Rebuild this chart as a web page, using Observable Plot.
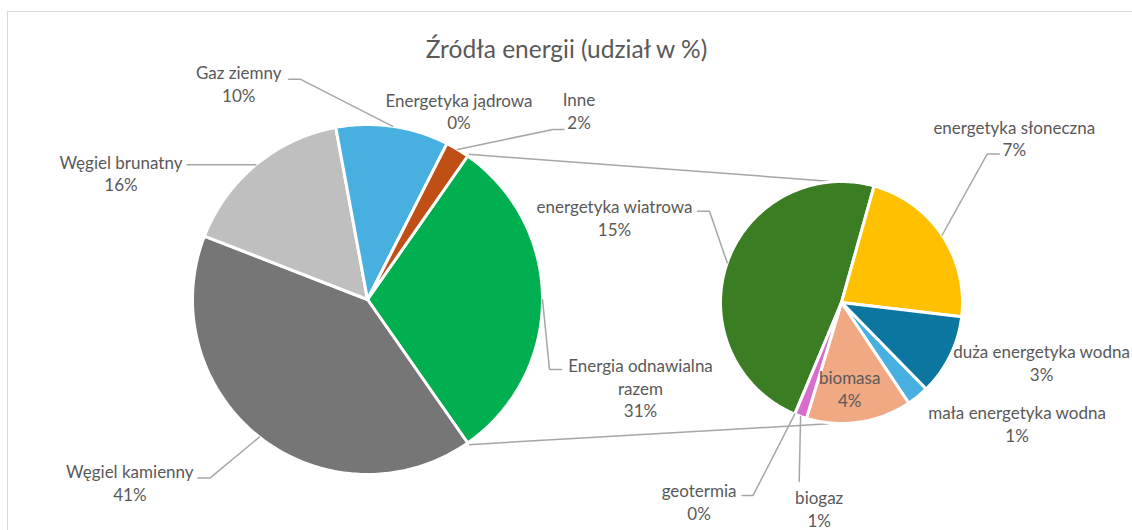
<!DOCTYPE html>
<html><head><meta charset="utf-8">
<script src="https://cdn.jsdelivr.net/npm/d3@7"></script>
<script src="https://cdn.jsdelivr.net/npm/@observablehq/plot@0.6"></script>
<style>
body{margin:0;background:#fff;overflow:hidden;}
#wrap{position:relative;width:1132px;height:530px;overflow:hidden;background:#fff;}
#border{position:absolute;left:7px;top:11px;width:1200px;height:600px;border:1.5px solid #d9d9d9;}
#chart{position:absolute;left:0;top:0;}
</style></head><body>
<div id="wrap"><div id="border"></div><div id="chart"></div></div>
<script>
// ---------- data ----------
const chartTitle = "Źródła energii (udział w %)";
const mainNames = ["Węgiel kamienny", "Węgiel brunatny", "Gaz ziemny", "Energetyka jądrowa", "Inne"];
const mainValues = [40.6, 16.2, 10.4, 0, 2.2];
const otherName = "Energia odnawialna razem";
const subNames = ["energetyka wiatrowa", "energetyka słoneczna", "duża energetyka wodna", "mała energetyka wodna", "biomasa", "biogaz", "geotermia"];
const subValues = [14.7, 6.9, 3.3, 0.9, 4.3, 0.5, 0];

// ---------- styles ----------
const mainColors = ["#767676", "#bfbfbf", "#47b0e1", "#4472c4", "#c04f15"];
const otherColor = "#00b050";
const subColors = ["#3b7d23", "#ffc000", "#0b76a0", "#47b0e1", "#f1a983", "#d86dcd", "#a02b93"];
const textColor = "#595959";
const lineColor = "#a6a6a6";
const FONT = "Lato, 'Open Sans', sans-serif";

// ---------- layout ----------
const leftPie = {cx: 367, cy: 299, r: 175};
const rightPie = {cx: 841, cy: 302, r: 121};
const rightStart = 202.7; // degrees clockwise from 12 o'clock
// label placement: offset of label centre from slice mid-arc point; leader end offset from label centre
const labelLayout = {
  "Węgiel kamienny": {dx: -129.5, dy: 45, ax: 68, ay: -4, elbow: 12},
  "Węgiel brunatny": {dx: -135, dy: 8, ax: 66, ay: -8, elbow: 12},
  "Gaz ziemny": {dx: -154, dy: -43, ax: 50, ay: -4, elbow: 12},
  "Energetyka jądrowa": {dx: 12, dy: -33},
  "Inne": {dx: 121.5, dy: -39, ax: -15, ay: 19, elbow: 11},
  "Energia odnawialna razem": {dx: 98, dy: 88, ax: -79, ay: -18, elbow: 12, wrap: true},
  "energetyka wiatrowa": {dx: -112.7, dy: -45.6, ax: 83, ay: -6, elbow: 12},
  "energetyka słoneczna": {dx: 72.2, dy: -97.3, ax: -15, ay: 16, elbow: 12},
  "duża energetyka wodna": {dx: 91.5, dy: 6},
  "mała energetyka wodna": {dx: 99.3, dy: 27},
  "biomasa": {dx: -9.7, dy: -33.7},
  "biogaz": {dx: 18.6, dy: 92, ax: -20, ay: -27, elbow: 0},
  "geotermia": {dx: -95.7, dy: 87.3, ax: 43, ay: -6, elbow: 11}
};

// ---------- geometry ----------
const rad = a => a * Math.PI / 180;
const pt = (p, a, r = p.r) => ({x: p.cx + r * Math.sin(rad(a)), y: p.cy - r * Math.cos(rad(a))});

const otherTotal = d3.sum(subValues);
const total = d3.sum(mainValues) + otherTotal;

// left pie: "other" slice centred at 3 o'clock, then main slices clockwise
const slices = [];
{
  const span = otherTotal / total * 360;
  let a = 90 - span / 2;
  slices.push({name: otherName, value: otherTotal, pie: leftPie, a0: a, a1: a + span});
  a += span;
  mainNames.forEach((n, i) => {
    const s = mainValues[i] / total * 360;
    slices.push({name: n, value: mainValues[i], pie: leftPie, a0: a, a1: a + s});
    a += s;
  });
}
{
  let a = rightStart;
  subNames.forEach((n, i) => {
    const s = subValues[i] / otherTotal * 360;
    slices.push({name: n, value: subValues[i], pie: rightPie, a0: a, a1: a + s});
    a += s;
  });
}

const polyRows = [];
for (const s of slices) {
  if (s.value <= 0) continue;
  const c = {x: s.pie.cx, y: s.pie.cy};
  polyRows.push({name: s.name, ...c});
  const n = Math.max(2, Math.ceil((s.a1 - s.a0) / 1));
  for (let k = 0; k <= n; k++) polyRows.push({name: s.name, ...pt(s.pie, s.a0 + (s.a1 - s.a0) * k / n)});
  polyRows.push({name: s.name, ...c});
}

const labelRows = [];
const leaderRows = [];
for (const s of slices) {
  const L = labelLayout[s.name];
  const m = pt(s.pie, (s.a0 + s.a1) / 2);
  const lx = m.x + L.dx, ly = m.y + L.dy;
  const pct = Math.round(s.value) + "%";
  let nm = s.name;
  if (L.wrap) { const k = nm.lastIndexOf(" "); nm = nm.slice(0, k) + "\n" + nm.slice(k + 1); }
  labelRows.push({x: lx, y: ly, text: nm + "\n" + pct});
  if (L.ax !== undefined) {
    const ex = lx + L.ax, ey = ly + L.ay;
    const dir = m.x > ex ? 1 : -1;
    leaderRows.push({id: s.name, x: m.x, y: m.y});
    leaderRows.push({id: s.name, x: ex + dir * L.elbow, y: ey});
    leaderRows.push({id: s.name, x: ex, y: ey});
  }
}

// connector lines between the two pies
const oz = slices[0];
const p1 = pt(leftPie, oz.a0, leftPie.r + 2), p2 = pt(rightPie, -6, rightPie.r + 1);
const p3 = pt(leftPie, oz.a1, leftPie.r + 2), p4 = pt(rightPie, 186, rightPie.r + 1);
const connectors = [
  {x1: p1.x, y1: p1.y, x2: p2.x, y2: p2.y},
  {x1: p3.x, y1: p3.y, x2: p4.x, y2: p4.y}
];

const colorDomain = [otherName, ...mainNames, ...subNames];
const colorRange = [otherColor, ...mainColors, ...subColors];

const chart = Plot.plot({
  width: 1132, height: 530, margin: 0,
  x: {domain: [0, 1132], axis: null},
  y: {domain: [0, 530], reverse: true, axis: null},
  color: {domain: colorDomain, range: colorRange},
  style: {fontFamily: FONT, background: "transparent", overflow: "visible"},
  marks: [
    Plot.link(connectors, {x1: "x1", y1: "y1", x2: "x2", y2: "y2", stroke: lineColor, strokeWidth: 1.5}),
    Plot.line(polyRows, {x: "x", y: "y", z: "name", fill: "name", stroke: "white", strokeWidth: 3, strokeLinejoin: "round", curve: "linear"}),
    Plot.line(leaderRows, {x: "x", y: "y", z: "id", stroke: lineColor, strokeWidth: 1.5, strokeLinejoin: "miter", curve: "linear"}),
    Plot.text(labelRows, {x: "x", y: "y", text: "text", fill: textColor, fontSize: 17, lineHeight: 1.33}),
    Plot.text([chartTitle], {frameAnchor: "top", dy: 40, text: d => d, fill: textColor, fontSize: 24.5})
  ]
});
document.getElementById("chart").appendChild(chart);
</script>
</body></html>
